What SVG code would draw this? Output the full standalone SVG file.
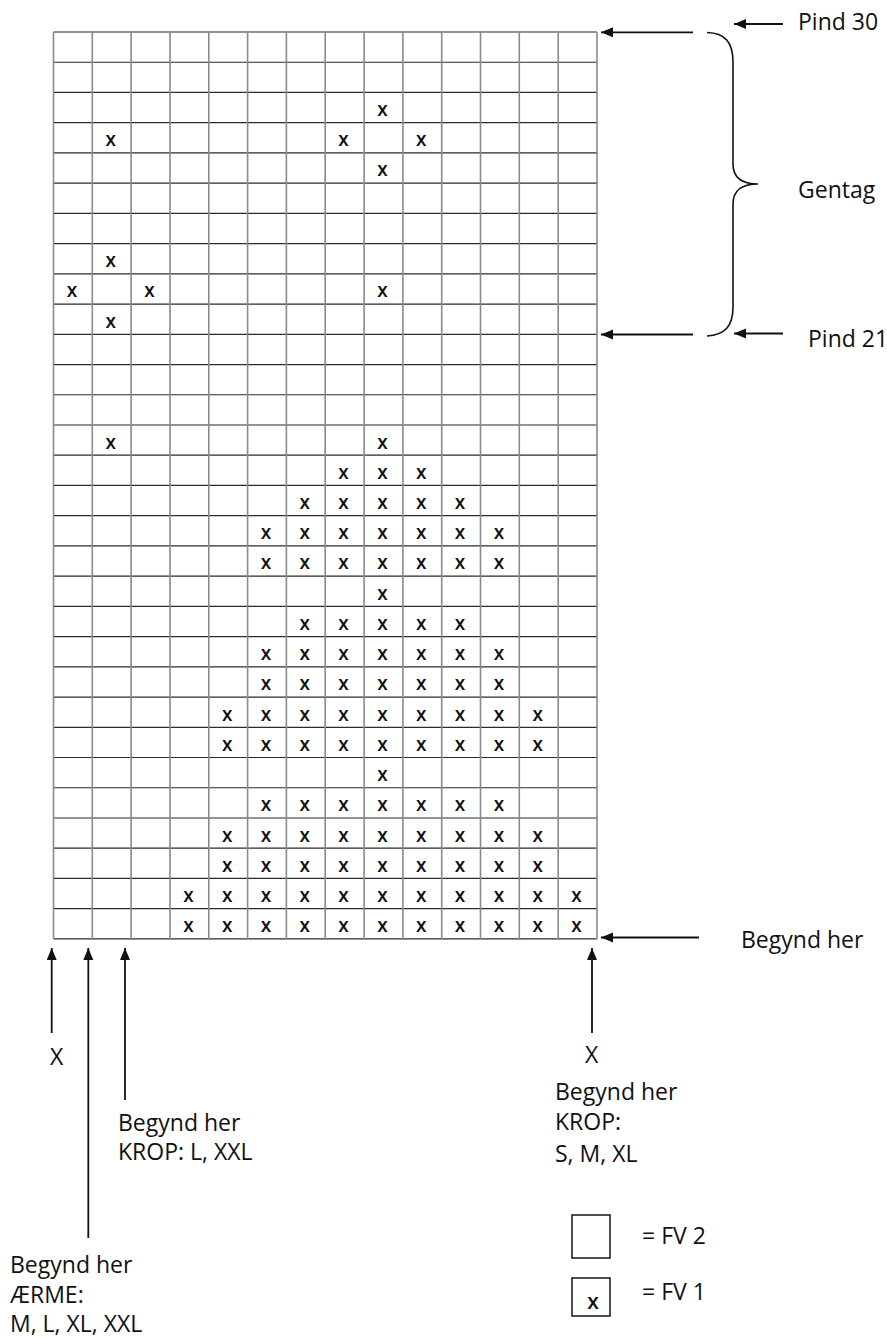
<svg xmlns="http://www.w3.org/2000/svg" width="887" height="1339" viewBox="0 0 887 1339">
<style>
.hl{stroke:#2b2b2b;stroke-width:1.2;fill:none}
.vl{stroke:#8a8a8a;stroke-width:1.6;fill:none}
.m{font-family:"Open Sans","Liberation Sans",sans-serif;font-weight:600;font-size:19px;fill:#111;text-anchor:middle}
.t{font-family:"Open Sans","Noto Sans","Liberation Sans",sans-serif;font-size:23px;fill:#111}
.a{stroke:#111;stroke-width:1.8;fill:none;marker-end:url(#ah)}
.box{fill:#fff;stroke:#222;stroke-width:1.6}
</style>
<defs>
<marker id="ah" markerUnits="userSpaceOnUse" markerWidth="13" markerHeight="11" refX="12" refY="5" orient="auto">
<path d="M0,0 L12,5 L0,10 Z" fill="#111"/>
</marker>
</defs>
<rect width="887" height="1339" fill="#fff"/>
<g id="grid">
<path class="hl" d="M53.5,32H597M53.5,62.23H597M53.5,92.46H597M53.5,122.69H597M53.5,152.92H597M53.5,183.15H597M53.5,213.38H597M53.5,243.61H597M53.5,273.84H597M53.5,304.07H597M53.5,334.3H597M53.5,364.53H597M53.5,394.76H597M53.5,424.99H597M53.5,455.22H597M53.5,485.45H597M53.5,515.68H597M53.5,545.91H597M53.5,576.14H597M53.5,606.37H597M53.5,636.6H597M53.5,666.83H597M53.5,697.06H597M53.5,727.29H597M53.5,757.52H597M53.5,787.75H597M53.5,817.98H597M53.5,848.21H597M53.5,878.44H597M53.5,908.67H597M53.5,938.9H597"/>
<path class="vl" d="M53.5,32V938.9M92.3,32V938.9M131.1,32V938.9M170,32V938.9M208.8,32V938.9M247.6,32V938.9M286.4,32V938.9M325.2,32V938.9M364.1,32V938.9M402.9,32V938.9M441.7,32V938.9M480.5,32V938.9M519.3,32V938.9M558.2,32V938.9M597,32V938.9"/>
</g>
<g id="marks">
<text class="m" x="382.5" y="116">x</text>
<text class="m" x="110.7" y="146.2">x</text><text class="m" x="343.6" y="146.2">x</text><text class="m" x="421.3" y="146.2">x</text>
<text class="m" x="382.5" y="176.4">x</text>
<text class="m" x="110.7" y="267.1">x</text>
<text class="m" x="71.9" y="297.3">x</text><text class="m" x="149.5" y="297.3">x</text><text class="m" x="382.5" y="297.3">x</text>
<text class="m" x="110.7" y="327.6">x</text>
<text class="m" x="110.7" y="448.5">x</text><text class="m" x="382.5" y="448.5">x</text>
<text class="m" x="343.6" y="478.7">x</text><text class="m" x="382.5" y="478.7">x</text><text class="m" x="421.3" y="478.7">x</text>
<text class="m" x="304.8" y="508.9">x</text><text class="m" x="343.6" y="508.9">x</text><text class="m" x="382.5" y="508.9">x</text><text class="m" x="421.3" y="508.9">x</text><text class="m" x="460.1" y="508.9">x</text>
<text class="m" x="266" y="539.2">x</text><text class="m" x="304.8" y="539.2">x</text><text class="m" x="343.6" y="539.2">x</text><text class="m" x="382.5" y="539.2">x</text><text class="m" x="421.3" y="539.2">x</text><text class="m" x="460.1" y="539.2">x</text><text class="m" x="498.9" y="539.2">x</text>
<text class="m" x="266" y="569.4">x</text><text class="m" x="304.8" y="569.4">x</text><text class="m" x="343.6" y="569.4">x</text><text class="m" x="382.5" y="569.4">x</text><text class="m" x="421.3" y="569.4">x</text><text class="m" x="460.1" y="569.4">x</text><text class="m" x="498.9" y="569.4">x</text>
<text class="m" x="382.5" y="599.6">x</text>
<text class="m" x="304.8" y="629.9">x</text><text class="m" x="343.6" y="629.9">x</text><text class="m" x="382.5" y="629.9">x</text><text class="m" x="421.3" y="629.9">x</text><text class="m" x="460.1" y="629.9">x</text>
<text class="m" x="266" y="660.1">x</text><text class="m" x="304.8" y="660.1">x</text><text class="m" x="343.6" y="660.1">x</text><text class="m" x="382.5" y="660.1">x</text><text class="m" x="421.3" y="660.1">x</text><text class="m" x="460.1" y="660.1">x</text><text class="m" x="498.9" y="660.1">x</text>
<text class="m" x="266" y="690.3">x</text><text class="m" x="304.8" y="690.3">x</text><text class="m" x="343.6" y="690.3">x</text><text class="m" x="382.5" y="690.3">x</text><text class="m" x="421.3" y="690.3">x</text><text class="m" x="460.1" y="690.3">x</text><text class="m" x="498.9" y="690.3">x</text>
<text class="m" x="227.2" y="720.6">x</text><text class="m" x="266" y="720.6">x</text><text class="m" x="304.8" y="720.6">x</text><text class="m" x="343.6" y="720.6">x</text><text class="m" x="382.5" y="720.6">x</text><text class="m" x="421.3" y="720.6">x</text><text class="m" x="460.1" y="720.6">x</text><text class="m" x="498.9" y="720.6">x</text><text class="m" x="537.7" y="720.6">x</text>
<text class="m" x="227.2" y="750.8">x</text><text class="m" x="266" y="750.8">x</text><text class="m" x="304.8" y="750.8">x</text><text class="m" x="343.6" y="750.8">x</text><text class="m" x="382.5" y="750.8">x</text><text class="m" x="421.3" y="750.8">x</text><text class="m" x="460.1" y="750.8">x</text><text class="m" x="498.9" y="750.8">x</text><text class="m" x="537.7" y="750.8">x</text>
<text class="m" x="382.5" y="781">x</text>
<text class="m" x="266" y="811.3">x</text><text class="m" x="304.8" y="811.3">x</text><text class="m" x="343.6" y="811.3">x</text><text class="m" x="382.5" y="811.3">x</text><text class="m" x="421.3" y="811.3">x</text><text class="m" x="460.1" y="811.3">x</text><text class="m" x="498.9" y="811.3">x</text>
<text class="m" x="227.2" y="841.5">x</text><text class="m" x="266" y="841.5">x</text><text class="m" x="304.8" y="841.5">x</text><text class="m" x="343.6" y="841.5">x</text><text class="m" x="382.5" y="841.5">x</text><text class="m" x="421.3" y="841.5">x</text><text class="m" x="460.1" y="841.5">x</text><text class="m" x="498.9" y="841.5">x</text><text class="m" x="537.7" y="841.5">x</text>
<text class="m" x="227.2" y="871.7">x</text><text class="m" x="266" y="871.7">x</text><text class="m" x="304.8" y="871.7">x</text><text class="m" x="343.6" y="871.7">x</text><text class="m" x="382.5" y="871.7">x</text><text class="m" x="421.3" y="871.7">x</text><text class="m" x="460.1" y="871.7">x</text><text class="m" x="498.9" y="871.7">x</text><text class="m" x="537.7" y="871.7">x</text>
<text class="m" x="188.4" y="901.9">x</text><text class="m" x="227.2" y="901.9">x</text><text class="m" x="266" y="901.9">x</text><text class="m" x="304.8" y="901.9">x</text><text class="m" x="343.6" y="901.9">x</text><text class="m" x="382.5" y="901.9">x</text><text class="m" x="421.3" y="901.9">x</text><text class="m" x="460.1" y="901.9">x</text><text class="m" x="498.9" y="901.9">x</text><text class="m" x="537.7" y="901.9">x</text><text class="m" x="576.6" y="901.9">x</text>
<text class="m" x="188.4" y="932.2">x</text><text class="m" x="227.2" y="932.2">x</text><text class="m" x="266" y="932.2">x</text><text class="m" x="304.8" y="932.2">x</text><text class="m" x="343.6" y="932.2">x</text><text class="m" x="382.5" y="932.2">x</text><text class="m" x="421.3" y="932.2">x</text><text class="m" x="460.1" y="932.2">x</text><text class="m" x="498.9" y="932.2">x</text><text class="m" x="537.7" y="932.2">x</text><text class="m" x="576.6" y="932.2">x</text>
</g>
<g id="connectors">
<path class="a" d="M693,32.3H601"/>
<path class="a" d="M693,334.5H601"/>
<path class="a" d="M783,24H734"/>
<path class="a" d="M783,333.5H734"/>
<path class="a" d="M699,937.5H601"/>
<path class="a" d="M592,1033V948"/>
<path class="a" d="M51.7,1033V948"/>
<path class="a" d="M88.3,1238V948"/>
<path class="a" d="M125,1100V948"/>
<path d="M707,32.5 C725,33 733,42 733,62 L733,164 C733,177 741,184 758,184 C741,184 733,191 733,204 L733,307 C733,326 725,335 707,336" fill="none" stroke="#111" stroke-width="1.6"/>
</g>
<g id="label-pind30"><text class="t" x="798" y="30">Pind 30</text></g>
<g id="label-gentag"><text class="t" x="798" y="198">Gentag</text></g>
<g id="label-pind21"><text class="t" x="808" y="347">Pind 21</text></g>
<g id="label-begynd"><text class="t" x="741" y="948">Begynd her</text></g>
<g id="label-right">
<text class="t" x="585" y="1063">X</text>
<text class="t" x="555" y="1100">Begynd her</text>
<text class="t" x="555" y="1130">KROP:</text>
<text class="t" x="555" y="1162">S, M, XL</text>
</g>
<g id="label-left-x"><text class="t" x="50" y="1065">X</text></g>
<g id="label-krop">
<text class="t" x="118" y="1131">Begynd her</text>
<text class="t" x="118" y="1160">KROP: L, XXL</text>
</g>
<g id="label-aerme">
<text class="t" x="10" y="1273">Begynd her</text>
<text class="t" x="10" y="1303">ÆRME:</text>
<text class="t" x="10" y="1332">M, L, XL, XXL</text>
</g>
<g id="legend">
<rect class="box" x="572" y="1215" width="38" height="43"/>
<rect class="box" x="572" y="1278" width="38" height="38"/>
<text class="m" x="593" y="1309" style="font-size:21px">x</text>
<text class="t" x="642" y="1244">= FV 2</text>
<text class="t" x="642" y="1300">= FV 1</text>
</g>
</svg>
